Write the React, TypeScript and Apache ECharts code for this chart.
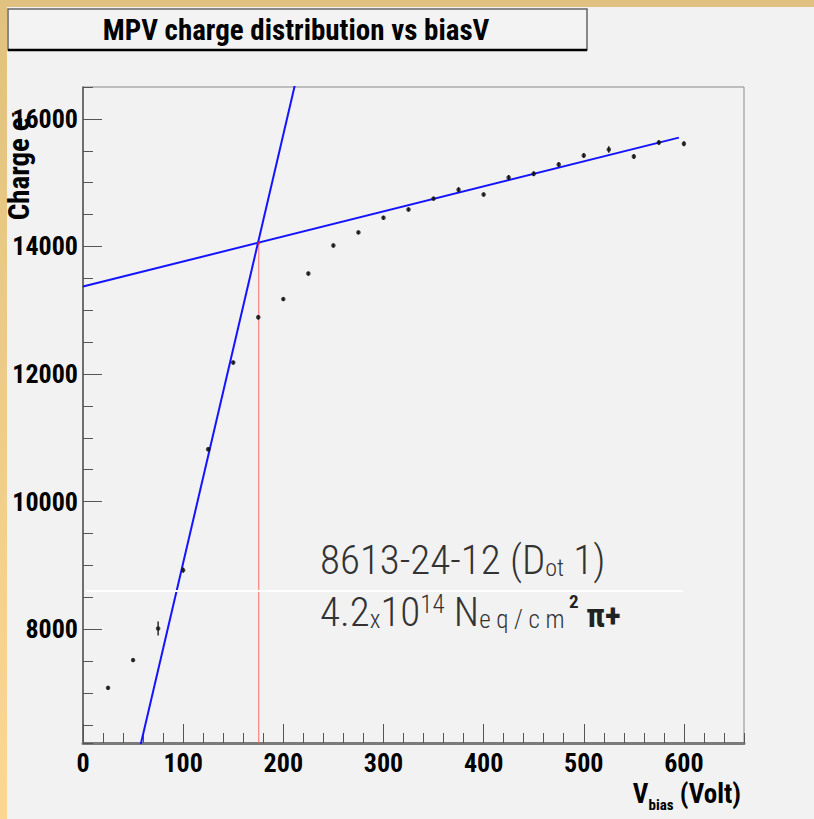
import React, { useEffect, useRef } from 'react';
import * as echarts from 'echarts';

// ---- data ----
const VBIAS = [25, 50, 75, 100, 125, 150, 175, 200, 225, 250, 275, 300, 325, 350, 375, 400, 425, 450, 475, 500, 525, 550, 575, 600];
const CHARGE = [7080, 7515, 8010, 8925, 10820, 12180, 12890, 13175, 13575, 14015, 14220, 14450, 14580, 14750, 14890, 14815, 15080, 15140, 15285, 15425, 15520, 15410, 15630, 15610];
const CHARGE_ERR = [30, 30, 110, 40, 30, 30, 35, 30, 30, 30, 30, 30, 30, 30, 40, 30, 40, 40, 40, 40, 50, 40, 40, 40];
const HIGH_FIT = [[0, 13372], [595, 15706]];
const LOW_FIT = [[57, 6150], [212, 16560]];
const KNEE = [175.5, 14050];
const X_RANGE = [0, 660];
const Y_RANGE = [6215, 16500];
const TITLE = 'MPV charge distribution vs biasV';

const COND = "'Roboto Condensed', 'DejaVu Sans Condensed', sans-serif";

export default function App() {
  const ref = useRef<HTMLDivElement>(null);
  useEffect(() => {
    if (!ref.current) return;
    const chart = echarts.init(ref.current, undefined, { renderer: 'svg' });
    const pts = VBIAS.map((v, i) => [v, CHARGE[i], CHARGE_ERR[i]]);
    const tickFont = { fontFamily: COND, fontWeight: 'bold' as const, fontSize: 26, color: '#000', formatter: (v: number) => String(v) };
    chart.setOption({
      animation: false,
      backgroundColor: '#f2f2f2',
      grid: {
        left: 83, top: 87, right: 70, bottom: 76, containLabel: false, outerBoundsMode: 'none',
        show: true, borderColor: '#8a8a8a', borderWidth: 1, backgroundColor: 'transparent',
      },
      xAxis: [
        {
          type: 'value', min: X_RANGE[0], max: X_RANGE[1], interval: 100, position: 'bottom',
          axisLine: { show: true, lineStyle: { color: '#7a7a7a', width: 3 } },
          axisTick: { show: true, inside: true, length: 19, lineStyle: { color: '#555', width: 1 } },
          axisLabel: { ...tickFont, margin: 7, showMaxLabel: false },
          splitLine: { show: false },
        },
        {
          type: 'value', min: X_RANGE[0], max: X_RANGE[1], interval: 20, position: 'bottom',
          axisLine: { show: false },
          axisTick: { show: true, inside: true, length: 10, lineStyle: { color: '#555', width: 1 } },
          axisLabel: { show: false },
          splitLine: { show: false },
        },
      ],
      yAxis: [
        {
          type: 'value', min: Y_RANGE[0], max: Y_RANGE[1], minInterval: 2000, maxInterval: 2000, splitNumber: 5, position: 'left',
          axisLine: { show: true, lineStyle: { color: '#555', width: 1.5 } },
          axisTick: { show: true, inside: true, length: 19, lineStyle: { color: '#555', width: 1 } },
          axisLabel: { ...tickFont, margin: 5, showMinLabel: false, showMaxLabel: false },
          splitLine: { show: false },
        },
        {
          type: 'value', min: Y_RANGE[0], max: Y_RANGE[1], minInterval: 500, maxInterval: 500, splitNumber: 20, position: 'left',
          axisLine: { show: false },
          axisTick: { show: true, inside: true, length: 10, lineStyle: { color: '#555', width: 1 } },
          axisLabel: { show: false },
          splitLine: { show: false },
        },
      ],
      series: [
        {
          type: 'line', data: [[KNEE[0], Y_RANGE[0]], KNEE], showSymbol: false, symbol: 'none',
          itemStyle: { color: '#ff6a6a' }, lineStyle: { color: '#ff6a6a', width: 1 }, z: 2,
        },
        {
          type: 'line', data: LOW_FIT, showSymbol: false, symbol: 'none', clip: true,
          itemStyle: { color: '#1414ff' }, lineStyle: { color: '#1414ff', width: 2 }, z: 3,
        },
        {
          type: 'line', data: HIGH_FIT, showSymbol: false, symbol: 'none', clip: true,
          itemStyle: { color: '#1414ff' }, lineStyle: { color: '#1414ff', width: 2 }, z: 3,
        },
        {
          type: 'custom', data: pts, z: 4,
          renderItem: (params: any, api: any) => {
            const x = api.value(0), y = api.value(1), e = api.value(2);
            const lo = api.coord([x, y - e]);
            const hi = api.coord([x, y + e]);
            return {
              type: 'line',
              shape: { x1: lo[0], y1: lo[1], x2: hi[0], y2: hi[1] },
              style: { stroke: '#111', lineWidth: 1.3 },
            };
          },
        },
        {
          type: 'scatter', data: pts.map((p) => [p[0], p[1]]), symbol: 'circle', symbolSize: 4.5,
          itemStyle: { color: '#111' }, z: 5,
        },
        {
          type: 'scatter', data: [KNEE], symbol: 'circle', symbolSize: 3,
          itemStyle: { color: '#ff2020' }, z: 6,
        },
      ],
      graphic: [
        // page frame bands
        { type: 'rect', shape: { x: 0, y: 0, width: 814, height: 7 }, style: { fill: '#e1c17f' }, z: 0 },
        {
          type: 'rect', shape: { x: 0, y: 0, width: 7, height: 819 }, z: 0,
          style: { fill: new echarts.graphic.LinearGradient(0, 0, 0, 1, [{ offset: 0, color: '#e1c17f' }, { offset: 1, color: '#fdd696' }]) },
        },
        // title box
        { type: 'rect', shape: { x: 8, y: 9, width: 579, height: 41 }, style: { fill: '#f3f3f3', stroke: '#666', lineWidth: 1.5 }, z: 10 },
        { type: 'line', shape: { x1: 8, y1: 50, x2: 587, y2: 50 }, style: { stroke: '#000', lineWidth: 2.5 }, z: 11 },
        {
          type: 'text', x: 296, y: 30, z: 12,
          style: { text: TITLE, font: `bold 29px ${COND}`, fill: '#000', textAlign: 'center', textVerticalAlign: 'middle' },
        },
        // y axis title
        {
          type: 'text', x: 19, y: 166, rotation: Math.PI / 2, z: 12,
          style: {
            text: '{a|Charge e}{s|-}', textAlign: 'center', textVerticalAlign: 'middle',
            rich: {
              a: { font: `bold 29px ${COND}`, fill: '#000' },
              s: { font: `bold 16px ${COND}`, fill: '#000', verticalAlign: 'top' },
            },
          },
        },
        // x axis title
        {
          type: 'text', x: 741, y: 796, z: 12,
          style: {
            text: '{a|V}{b|bias}{a| (Volt)}', textAlign: 'right', textVerticalAlign: 'middle',
            rich: {
              a: { font: `bold 27px ${COND}`, fill: '#000', lineHeight: 32, verticalAlign: 'top' },
              b: { font: `bold 15px ${COND}`, fill: '#000', lineHeight: 32, verticalAlign: 'bottom' },
            },
          },
        },
        // white strip
        { type: 'line', shape: { x1: 86, y1: 591, x2: 683, y2: 591 }, style: { stroke: '#ffffff', lineWidth: 2 }, z: 7 },
        // annotation
        {
          type: 'text', x: 320, y: 560, z: 12,
          style: {
            text: '{n|8613-24-12 (D}{s|ot}{n| 1)}', textVerticalAlign: 'middle',
            rich: {
              n: { font: `300 41px ${COND}`, fill: '#333', lineHeight: 40, verticalAlign: 'bottom' },
              s: { font: `300 24px ${COND}`, fill: '#333', lineHeight: 30, verticalAlign: 'bottom' },
            },
          },
        },
        {
          type: 'text', x: 320, y: 612, z: 12,
          style: {
            text: '{n|4.2}{s|x}{n|10}{p|14}{n| N}{s|e q / c m}{b| 2}{g| π+}', textVerticalAlign: 'middle',
            rich: {
              n: { font: `300 41px ${COND}`, fill: '#333', lineHeight: 40, verticalAlign: 'bottom' },
              s: { font: `300 25px ${COND}`, fill: '#333', lineHeight: 30, verticalAlign: 'bottom' },
              p: { font: `300 25px ${COND}`, fill: '#333', lineHeight: 40, verticalAlign: 'top' },
              b: { font: `bold 19px ${COND}`, fill: '#222', lineHeight: 40, verticalAlign: 'top' },
              g: { font: `bold 33px ${COND}`, fill: '#222', lineHeight: 40, verticalAlign: 'bottom' },
            },
          },
        },
      ],
    });
    return () => chart.dispose();
  }, []);
  return <div ref={ref} style={{ position: 'fixed', left: 0, top: 0, width: 814, height: 819 }} />;
}
